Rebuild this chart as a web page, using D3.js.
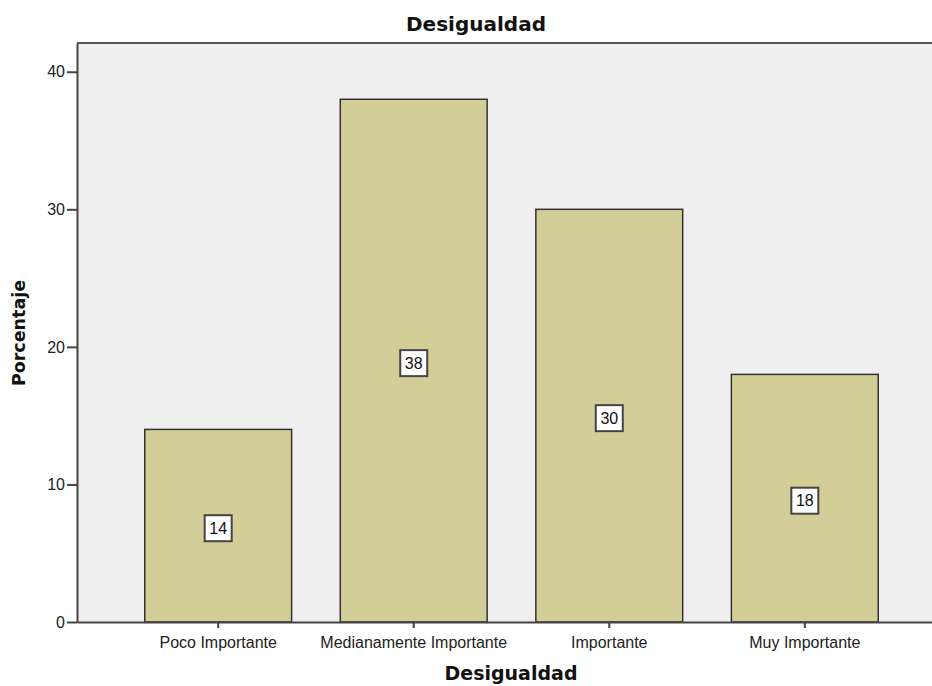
<!DOCTYPE html>
<html>
<head>
<meta charset="utf-8">
<script src="https://cdn.jsdelivr.net/npm/d3@7"></script>
<style>
  html, body { margin: 0; padding: 0; background: #fff; }
  svg { display: block; font-family: "Liberation Sans", Arial, sans-serif; }
</style>
</head>
<body>
<svg id="chart" width="932" height="686"></svg>
<script>
const categories = ["Poco Importante", "Medianamente Importante", "Importante", "Muy Importante"];
const values = [14, 38, 30, 18];
const yTicks = [0, 10, 20, 30, 40];
const chartTitle = "Desigualdad";
const xTitle = "Desigualdad";
const yTitle = "Porcentaje";

const svg = d3.select("#chart");
const plot = { left: 77, top: 43, right: 946, bottom: 622 };

const x = d3.scaleBand()
  .domain(categories)
  .range([plot.left, plot.right])
  .paddingInner(0.249)
  .paddingOuter(0.3465);

const y = d3.scaleLinear()
  .domain([0, 42.09])
  .range([plot.bottom, plot.top]);

// background
svg.append("rect")
  .attr("x", plot.left).attr("y", plot.top)
  .attr("width", plot.right - plot.left).attr("height", plot.bottom - plot.top)
  .attr("fill", "#efefef");

// bars
svg.append("g").selectAll("rect")
  .data(values)
  .join("rect")
  .attr("x", (d, i) => x(categories[i]))
  .attr("y", d => y(d))
  .attr("width", x.bandwidth())
  .attr("height", d => y(0) - y(d))
  .attr("fill", "#d3ce97")
  .attr("stroke", "#333")
  .attr("stroke-width", 1.5);

// top frame line
svg.append("line")
  .attr("x1", plot.left).attr("x2", plot.right)
  .attr("y1", plot.top).attr("y2", plot.top)
  .attr("stroke", "#555").attr("stroke-width", 2);

// y axis
const yAxis = d3.axisLeft(y).tickValues(yTicks).tickSize(10).tickSizeOuter(0).tickPadding(2);
const gy = svg.append("g").attr("transform", `translate(${plot.left},0)`).call(yAxis);
gy.select(".domain").attr("stroke", "#444").attr("stroke-width", 2);
gy.selectAll(".tick line").attr("stroke", "#444").attr("stroke-width", 2);
gy.selectAll(".tick text").attr("font-size", 16).attr("fill", "#222")
  .attr("font-family", "'Liberation Sans', Arial, sans-serif");

// x axis
const xAxis = d3.axisBottom(x).tickSize(6).tickPadding(9).tickSizeOuter(0);
const gx = svg.append("g").attr("transform", `translate(0,${plot.bottom})`).call(xAxis);
gx.select(".domain").attr("stroke", "#444").attr("stroke-width", 2);
gx.selectAll(".tick line").attr("stroke", "#444").attr("stroke-width", 2);
gx.selectAll(".tick text").attr("font-size", 16).attr("fill", "#222")
  .attr("font-family", "'Liberation Sans', Arial, sans-serif");

// value labels
const lg = svg.append("g").selectAll("g")
  .data(values)
  .join("g")
  .attr("transform", (d, i) => `translate(${x(categories[i]) + x.bandwidth() / 2},${y(d / 2) + 2.5})`);
lg.append("rect")
  .attr("x", -13.5).attr("y", -13)
  .attr("width", 27).attr("height", 26)
  .attr("fill", "#fff").attr("stroke", "#444").attr("stroke-width", 2);
lg.append("text")
  .attr("text-anchor", "middle").attr("dy", "0.36em")
  .attr("font-size", 16).attr("fill", "#111")
  .text(d => d);

// titles
const titleFont = "'DejaVu Sans', Verdana, sans-serif";
svg.append("text")
  .attr("x", 476).attr("y", 31)
  .attr("text-anchor", "middle")
  .attr("font-family", titleFont)
  .attr("font-size", 20).attr("font-weight", "bold").attr("fill", "#111")
  .text(chartTitle);

svg.append("text")
  .attr("x", 511).attr("y", 680)
  .attr("text-anchor", "middle")
  .attr("font-family", titleFont)
  .attr("font-size", 19).attr("font-weight", "bold").attr("fill", "#111")
  .text(xTitle);

svg.append("text")
  .attr("transform", "translate(25,333) rotate(-90)")
  .attr("text-anchor", "middle")
  .attr("font-family", titleFont)
  .attr("font-size", 17.5).attr("font-weight", "bold").attr("fill", "#111")
  .text(yTitle);
</script>
</body>
</html>
